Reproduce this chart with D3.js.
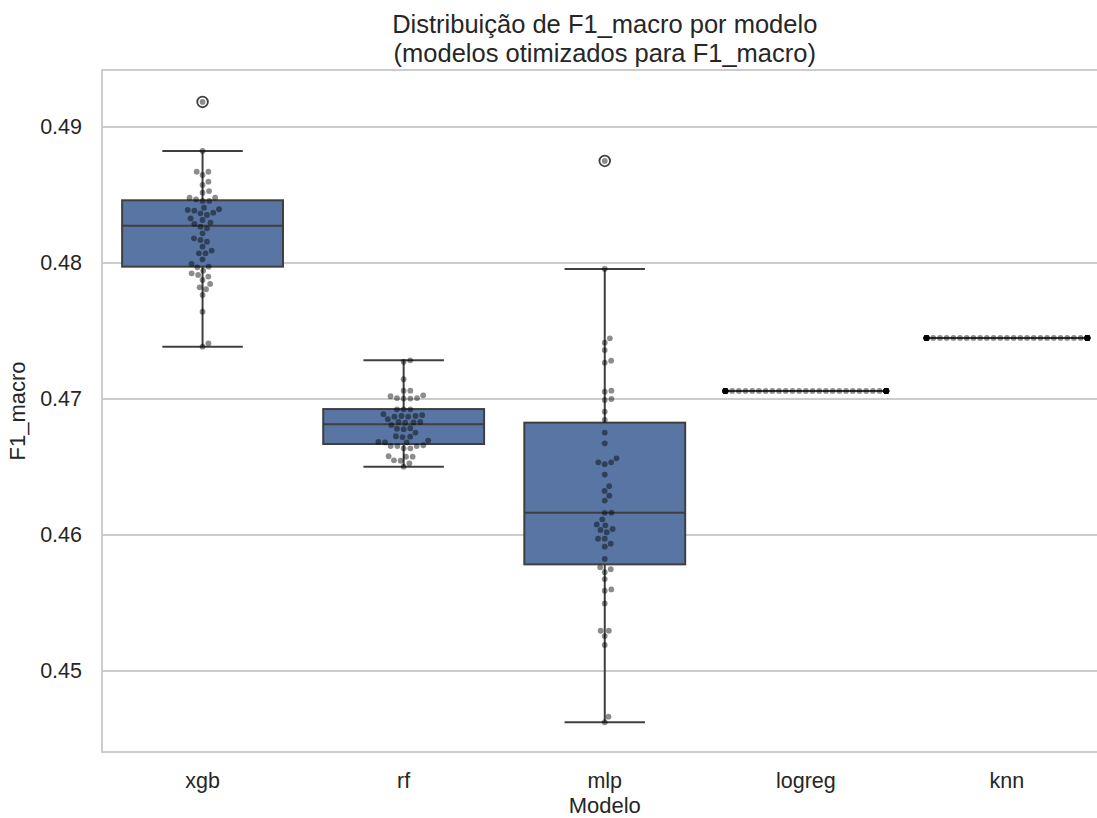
<!DOCTYPE html>
<html>
<head>
<meta charset="utf-8">
<script src="https://cdn.jsdelivr.net/npm/d3@7"></script>
<style>
  body { margin: 0; background: white; }
  text { font-family: "Liberation Sans", Arial, sans-serif; fill: #262626; }
</style>
</head>
<body>
<div id="chart"></div>
<script>
// ##################################
// Data
// ##################################
const models = ["xgb", "rf", "mlp", "logreg", "knn"]

const xgbScores = [0.49184, 0.48824, 0.48671, 0.48671, 0.48647, 0.48598, 0.48574, 0.48529, 0.48517, 0.48480,
    0.48480, 0.48468, 0.48456, 0.48456, 0.48407, 0.48395, 0.48390, 0.48385, 0.48370, 0.48365,
    0.48353, 0.48328, 0.48316, 0.48297, 0.48287, 0.48267, 0.48255, 0.48218, 0.48181, 0.48169,
    0.48157, 0.48120, 0.48091, 0.48071, 0.48071, 0.48027, 0.47993, 0.47973, 0.47968, 0.47944,
    0.47924, 0.47912, 0.47900, 0.47875, 0.47846, 0.47821, 0.47807, 0.47765, 0.47642, 0.47409, 0.47385]
const rfScores = [0.47284, 0.47274, 0.47145, 0.47061, 0.47061, 0.47027, 0.47020, 0.47003, 0.47003, 0.47007,
    0.47007, 0.46924, 0.46924, 0.46924, 0.46882, 0.46875, 0.46870, 0.46870, 0.46875, 0.46888,
    0.46851, 0.46831, 0.46828, 0.46826, 0.46831, 0.46809, 0.46782, 0.46785, 0.46778, 0.46753,
    0.46723, 0.46720, 0.46726, 0.46694, 0.46684, 0.46681, 0.46681, 0.46660, 0.46654, 0.46654,
    0.46654, 0.46637, 0.46637, 0.46579, 0.46576, 0.46576, 0.46549, 0.46546, 0.46527, 0.46502]
const mlpScores = [0.48750, 0.47956, 0.47446, 0.47414, 0.47360, 0.47282, 0.47267, 0.47061, 0.47054, 0.47000,
    0.46993, 0.46907, 0.46846, 0.46753, 0.46674, 0.46564, 0.46534, 0.46520, 0.46534, 0.46444,
    0.46360, 0.46324, 0.46289, 0.46253, 0.46164, 0.46163, 0.46115, 0.46078, 0.46071, 0.46044,
    0.46037, 0.46020, 0.45973, 0.45973, 0.45936, 0.45914, 0.45824, 0.45762, 0.45748, 0.45726,
    0.45676, 0.45600, 0.45590, 0.45497, 0.45296, 0.45296, 0.45257, 0.45191, 0.44664, 0.44623]
const logregScores = [0.47059, 0.47059, 0.47059, 0.47059, 0.47059, 0.47059, 0.47059, 0.47059, 0.47059, 0.47059,
    0.47059, 0.47059, 0.47059, 0.47059, 0.47059, 0.47059, 0.47059, 0.47059, 0.47059, 0.47059,
    0.47059, 0.47059, 0.47059, 0.47059, 0.47059, 0.47059, 0.47059, 0.47059, 0.47059, 0.47059,
    0.47059, 0.47059, 0.47059, 0.47059, 0.47059, 0.47059, 0.47059, 0.47059, 0.47059, 0.47059,
    0.47059, 0.47059, 0.47059, 0.47059, 0.47059, 0.47059, 0.47059, 0.47059, 0.47059, 0.47059]
const knnScores = [0.47449, 0.47449, 0.47449, 0.47449, 0.47449, 0.47449, 0.47449, 0.47449, 0.47449, 0.47449,
    0.47449, 0.47449, 0.47449, 0.47449, 0.47449, 0.47449, 0.47449, 0.47449, 0.47449, 0.47449,
    0.47449, 0.47449, 0.47449, 0.47449, 0.47449, 0.47449, 0.47449, 0.47449, 0.47449, 0.47449,
    0.47449, 0.47449, 0.47449, 0.47449, 0.47449, 0.47449, 0.47449, 0.47449, 0.47449, 0.47449,
    0.47449, 0.47449, 0.47449, 0.47449, 0.47449, 0.47449, 0.47449, 0.47449, 0.47449, 0.47449]
const scores = [xgbScores, rfScores, mlpScores, logregScores, knnScores]

// box statistics per model (same order as models)
const q1 = [0.47973, 0.46669, 0.45784, 0.47059, 0.47449]
const median = [0.48274, 0.46814, 0.46164, 0.47059, 0.47449]
const q3 = [0.48461, 0.46926, 0.46826, 0.47059, 0.47449]
const whiskerLow = [0.47385, 0.46502, 0.44623, 0.47059, 0.47449]
const whiskerHigh = [0.48824, 0.47284, 0.47956, 0.47059, 0.47449]

const yTicks = [0.45, 0.46, 0.47, 0.48, 0.49]

// ##################################
// Layout
// ##################################
const W = 1097, H = 818
const margin = {left: 102, right: 1107.5, top: 70, bottom: 752}
const boxColor = "#5875a3"
const edgeColor = "#3f3f3f"
const gridColor = "#cccccc"
const tickFont = 21.5

const svg = d3.select("#chart")
    .append("svg")
    .attr("width", W)
    .attr("height", H)

const x = d3.scaleBand()
    .domain(models)
    .range([margin.left, margin.right])
    .paddingInner(0)
    .paddingOuter(0)

const y = d3.scaleLinear()
    .domain([0.444044, 0.49419])
    .range([margin.bottom, margin.top])

const boxW = x.bandwidth() * 0.8

// grid lines
svg.append("g")
    .selectAll("line")
    .data(yTicks)
    .join("line")
        .attr("x1", margin.left)
        .attr("x2", W)
        .attr("y1", d => y(d))
        .attr("y2", d => y(d))
        .attr("stroke", gridColor)
        .attr("stroke-width", 1.8)

// spines
svg.append("line")
    .attr("x1", margin.left).attr("x2", margin.left)
    .attr("y1", margin.top).attr("y2", margin.bottom)
    .attr("stroke", gridColor).attr("stroke-width", 2)
svg.append("line")
    .attr("x1", margin.left - 1).attr("x2", W)
    .attr("y1", margin.top).attr("y2", margin.top)
    .attr("stroke", gridColor).attr("stroke-width", 2)
svg.append("line")
    .attr("x1", margin.left - 1).attr("x2", W)
    .attr("y1", margin.bottom).attr("y2", margin.bottom)
    .attr("stroke", gridColor).attr("stroke-width", 2)

// y axis tick labels
const yAxis = svg.append("g")
    .attr("transform", `translate(${margin.left},0)`)
    .call(d3.axisLeft(y).tickValues(yTicks).tickFormat(d3.format(".2f")).tickSize(0).tickPadding(20))
yAxis.select(".domain").remove()
yAxis.selectAll("text")
    .attr("font-size", tickFont)
    .attr("font-family", "Liberation Sans, Arial, sans-serif")
    .attr("fill", "#262626")

// x axis tick labels
const xAxis = svg.append("g")
    .attr("transform", `translate(0,${margin.bottom})`)
    .call(d3.axisBottom(x).tickSize(0).tickPadding(21))
xAxis.select(".domain").remove()
xAxis.selectAll("text")
    .attr("font-size", tickFont)
    .attr("font-family", "Liberation Sans, Arial, sans-serif")
    .attr("fill", "#262626")

// ##################################
// Boxes
// ##################################
const boxes = svg.append("g")
    .selectAll("g")
    .data(models)
    .join("g")

const cx = m => x(m) + x.bandwidth() / 2

// whiskers
boxes.append("line")
    .attr("x1", cx).attr("x2", cx)
    .attr("y1", (m, i) => y(whiskerHigh[i]))
    .attr("y2", (m, i) => y(q3[i]))
    .attr("stroke", edgeColor).attr("stroke-width", 2)
boxes.append("line")
    .attr("x1", cx).attr("x2", cx)
    .attr("y1", (m, i) => y(q1[i]))
    .attr("y2", (m, i) => y(whiskerLow[i]))
    .attr("stroke", edgeColor).attr("stroke-width", 2)
// caps
boxes.selectAll(".cap")
    .data((m, i) => [whiskerLow[i], whiskerHigh[i]].map(v => ({m, v})))
    .join("line")
        .attr("class", "cap")
        .attr("x1", d => cx(d.m) - boxW / 4)
        .attr("x2", d => cx(d.m) + boxW / 4)
        .attr("y1", d => y(d.v))
        .attr("y2", d => y(d.v))
        .attr("stroke", edgeColor).attr("stroke-width", 2)
// box body
boxes.append("rect")
    .attr("x", m => cx(m) - boxW / 2)
    .attr("width", boxW)
    .attr("y", (m, i) => y(q3[i]))
    .attr("height", (m, i) => Math.max(0, y(q1[i]) - y(q3[i])))
    .attr("fill", boxColor)
    .attr("stroke", edgeColor)
    .attr("stroke-width", 2)
// median
boxes.append("line")
    .attr("x1", m => cx(m) - boxW / 2)
    .attr("x2", m => cx(m) + boxW / 2)
    .attr("y1", (m, i) => y(median[i]))
    .attr("y2", (m, i) => y(median[i]))
    .attr("stroke", edgeColor).attr("stroke-width", 2)
// fliers
boxes.selectAll(".flier")
    .data((m, i) => scores[i].filter(v => v > whiskerHigh[i] || v < whiskerLow[i]).map(v => ({m, v})))
    .join("circle")
        .attr("class", "flier")
        .attr("cx", d => cx(d.m))
        .attr("cy", d => y(d.v))
        .attr("r", 5.3)
        .attr("fill", "none")
        .attr("stroke", edgeColor)
        .attr("stroke-width", 1.8)

// ##################################
// Swarm points
// ##################################
const dotSpacing = 6.7

function swarm(values, half) {
    const order = values.map((v, i) => i).sort((a, b) => values[a] - values[b])
    const placed = []
    const xs = new Array(values.length)
    for (const i of order) {
        const py = y(values[i])
        const near = placed.filter(p => Math.abs(p.y - py) < dotSpacing)
        const cands = [0]
        near.forEach(p => {
            const dx = Math.sqrt(dotSpacing * dotSpacing - (p.y - py) ** 2)
            cands.push(p.x + dx, p.x - dx)
        })
        cands.sort((a, b) => Math.abs(a) - Math.abs(b))
        const px = cands.find(c => near.every(p => (p.x - c) ** 2 + (p.y - py) ** 2 >= dotSpacing * dotSpacing - 0.01))
        placed.push({x: px, y: py})
        xs[i] = px
    }
    // points that do not fit go to the box edges
    return xs.map(v => Math.max(-half, Math.min(half, v)))
}

models.forEach((m, i) => {
    const offs = swarm(scores[i], boxW / 2)
    svg.append("g")
        .selectAll("circle")
        .data(scores[i])
        .join("circle")
            .attr("cx", (d, j) => cx(m) + offs[j])
            .attr("cy", d => y(d))
            .attr("r", 2.9)
            .attr("fill", "black")
            .attr("fill-opacity", 0.45)
})

// ##################################
// Titles
// ##################################
const midX = (margin.left + margin.right) / 2
svg.append("text")
    .attr("x", midX).attr("y", 33)
    .attr("text-anchor", "middle")
    .attr("font-size", 25.5)
    .text("Distribuição de F1_macro por modelo")
svg.append("text")
    .attr("x", midX).attr("y", 62)
    .attr("text-anchor", "middle")
    .attr("font-size", 25.5)
    .text("(modelos otimizados para F1_macro)")

svg.append("text")
    .attr("x", midX).attr("y", 813)
    .attr("text-anchor", "middle")
    .attr("font-size", 22)
    .text("Modelo")

svg.append("text")
    .attr("transform", `translate(25,${(margin.top + margin.bottom) / 2}) rotate(-90)`)
    .attr("text-anchor", "middle")
    .attr("font-size", 22)
    .text("F1_macro")
</script>
</body>
</html>
